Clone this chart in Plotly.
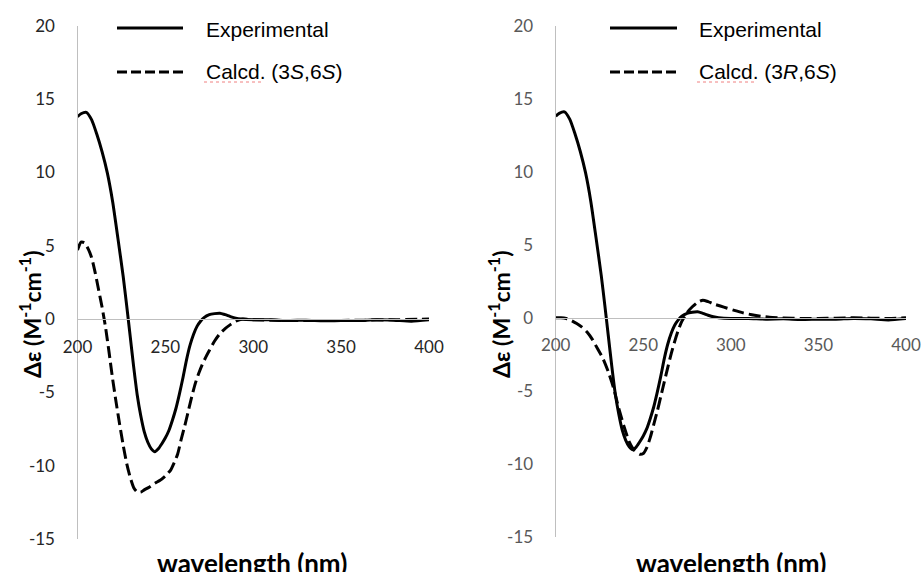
import plotly.graph_objects as go

# ---- spectra (wavelength in nm, delta-epsilon in M^-1 cm^-1) ----
exp_wl = [200, 202, 205, 208, 211, 214, 217, 220, 223, 226, 228, 230, 232, 234,
          236, 238, 240, 242, 244, 246, 248, 250, 252, 254, 256, 258, 260, 262,
          264, 266, 268, 270, 272, 275, 278, 281, 284, 287, 290, 293, 300, 310,
          320, 330, 340, 350, 360, 370, 380, 390, 400]
exp_de = [13.8, 14.0, 14.1, 13.6, 12.6, 11.4, 9.95, 8.0, 5.5, 2.9, 0.9, -1.2,
          -3.3, -5.2, -6.6, -7.7, -8.4, -8.85, -9.05, -8.85, -8.5, -8.1, -7.6,
          -6.9, -6.1, -5.1, -4.0, -2.8, -1.8, -1.05, -0.5, -0.15, 0.1, 0.3, 0.37,
          0.4, 0.3, 0.17, 0.06, 0.0, -0.05, -0.05, -0.1, -0.08, -0.12, -0.1,
          -0.1, -0.05, -0.08, -0.15, -0.05]

calc_ss_wl = [200, 202, 204, 206, 208, 210, 212, 214, 216, 218, 220, 222, 224,
              226, 228, 230, 232, 234, 236, 238, 241, 244, 247, 250, 253, 255,
              257, 259, 261, 263, 265, 267, 269, 271, 273, 275, 278, 281, 284,
              287, 290, 294, 300, 320, 340, 360, 380, 400]
calc_ss_de = [4.7, 5.25, 5.2, 4.8, 4.2, 3.2, 2.0, 0.8, -0.6, -2.3, -4.1, -5.7,
              -7.2, -8.6, -9.85, -10.8, -11.5, -11.8, -11.8, -11.65, -11.45,
              -11.2, -11.0, -10.7, -10.3, -9.8, -9.2, -8.2, -7.3, -6.3, -5.3,
              -4.4, -3.7, -3.1, -2.6, -2.15, -1.5, -1.0, -0.65, -0.38, -0.15,
              0.0, -0.05, -0.1, -0.1, -0.08, -0.05, 0.0]

calc_rs_wl = [200, 203, 206, 209, 212, 215, 218, 221, 224, 227, 230, 233, 236,
              239, 242, 245, 248, 250, 252, 254, 256, 258, 260, 262, 264, 266,
              268, 270, 272, 275, 278, 281, 284, 287, 290, 294, 298, 302, 307,
              312, 317, 322, 330, 340, 350, 360, 370, 380, 390, 400]
calc_rs_de = [0.0, 0.0, -0.05, -0.2, -0.4, -0.65, -1.0, -1.5, -2.15, -2.8, -3.7,
              -4.8, -6.2, -7.45, -8.5, -9.1, -9.35, -9.3, -8.9, -8.2, -7.3, -6.4,
              -5.4, -4.4, -3.4, -2.45, -1.6, -0.85, -0.25, 0.35, 0.75, 1.05, 1.2,
              1.1, 0.95, 0.8, 0.65, 0.5, 0.33, 0.2, 0.1, 0.03, -0.02, -0.05,
              -0.05, -0.03, 0.0, -0.03, -0.05, 0.0]

x_ticks = [200, 250, 300, 350, 400]
y_ticks = [-15, -10, -5, 0, 5, 10, 15, 20]
y_tick_text = ["-15", "-10", "-5", "0", "5", "10", "15", "20"]

W, H = 923, 572
AXIS_GRAY = "#bfbfbf"
TICK_FONT = "Lato, 'Open Sans', sans-serif"
LEG_FONT = "'Liberation Sans', Arial, sans-serif"


def px_x(p):
    return p / W


def px_y(p):
    return 1 - p / H


fig = go.Figure()

line_solid = dict(color="black", width=3, shape="spline", smoothing=0.6)
line_dash = dict(color="black", width=3, dash="12px,5px", shape="spline", smoothing=0.6)

fig.add_trace(go.Scatter(x=exp_wl, y=exp_de, mode="lines", line=line_solid,
                         name="Experimental", xaxis="x", yaxis="y", showlegend=False))
fig.add_trace(go.Scatter(x=calc_ss_wl, y=calc_ss_de, mode="lines", line=line_dash,
                         name="Calcd. (3S,6S)", xaxis="x", yaxis="y", showlegend=False))
fig.add_trace(go.Scatter(x=exp_wl, y=exp_de, mode="lines", line=line_solid,
                         name="Experimental", xaxis="x2", yaxis="y2", showlegend=False))
fig.add_trace(go.Scatter(x=calc_rs_wl, y=calc_rs_de, mode="lines", line=line_dash,
                         name="Calcd. (3R,6S)", xaxis="x2", yaxis="y2", showlegend=False))

# panel geometry (pixels)
panels = [
    dict(x0=77.5, x1=429.0, ytop=25.8, ybot=539.0, tick_color="#262626"),
    dict(x0=555.7, x1=906.0, ytop=25.7, ybot=536.7, tick_color="#595959"),
]

layout = dict(
    width=W, height=H,
    margin=dict(l=0, r=0, t=0, b=0, autoexpand=False),
    paper_bgcolor="white", plot_bgcolor="white",
    showlegend=False,
)

for i, p in enumerate(panels):
    sfx = "" if i == 0 else str(i + 1)
    ydom = [px_y(p["ybot"]), px_y(p["ytop"])]
    zero_pos = ydom[0] + (0 - (-15)) / 35 * (ydom[1] - ydom[0])
    layout["xaxis" + sfx] = dict(
        domain=[px_x(p["x0"]), px_x(p["x1"])],
        range=[200, 400], tickvals=x_ticks, ticktext=[str(v) for v in x_ticks],
        anchor="free", position=zero_pos, automargin=False,
        showline=True, linecolor=AXIS_GRAY, linewidth=1.3,
        showgrid=False, zeroline=False, ticks="",
        ticklabelstandoff=12,
        tickfont=dict(family=TICK_FONT, size=17, color=p["tick_color"]),
    )
    layout["yaxis" + sfx] = dict(
        domain=ydom, range=[-15, 20], tickvals=y_ticks, ticktext=y_tick_text,
        anchor="x" + sfx, automargin=False,
        showline=True, linecolor=AXIS_GRAY, linewidth=1.3,
        showgrid=False, zeroline=False, ticks="",
        ticklabelstandoff=18,
        tickfont=dict(family=TICK_FONT, size=17, color=p["tick_color"]),
    )

fig.update_layout(**layout)

# axis titles
ytitle = "Δε (M<sup>-1</sup>cm<sup>-1</sup>)"
for xc in (30, 499):
    fig.add_annotation(x=px_x(xc), y=px_y(314), xref="paper", yref="paper",
                       text=ytitle, textangle=-90, showarrow=False,
                       xanchor="center", yanchor="middle",
                       font=dict(family="Lato, sans-serif", size=23, color="black", weight="bold"))
for xc in (252, 731):
    fig.add_annotation(x=px_x(xc), y=px_y(563), xref="paper", yref="paper",
                       text="wavelength (nm)", showarrow=False,
                       xanchor="center", yanchor="middle",
                       font=dict(family="Lato, sans-serif", size=26, color="black", weight="bold"))

# legend keys
legends = [
    dict(lx0=117, lx1=183, tx=204, calc="Calcd. (3<i>S</i>,6<i>S</i>)"),
    dict(lx0=610, lx1=677, tx=697, calc="Calcd. (3<i>R</i>,6<i>S</i>)"),
]
for lg in legends:
    fig.add_shape(type="line", xref="paper", yref="paper",
                  x0=px_x(lg["lx0"]), x1=px_x(lg["lx1"]), y0=px_y(28), y1=px_y(28),
                  line=dict(color="black", width=3))
    fig.add_shape(type="line", xref="paper", yref="paper",
                  x0=px_x(lg["lx0"]), x1=px_x(lg["lx1"]), y0=px_y(72), y1=px_y(72),
                  line=dict(color="black", width=3, dash="10px,4px"))
    fig.add_annotation(x=px_x(lg["tx"]), y=px_y(29), xref="paper", yref="paper",
                       text="Experimental", showarrow=False, xanchor="left", yanchor="middle",
                       font=dict(family=LEG_FONT, size=21, color="black"))
    fig.add_annotation(x=px_x(lg["tx"]), y=px_y(72), xref="paper", yref="paper",
                       text=lg["calc"], showarrow=False, xanchor="left", yanchor="middle",
                       font=dict(family=LEG_FONT, size=21, color="black"))
    # spell-check squiggle under "Calcd"
    fig.add_shape(type="line", xref="paper", yref="paper",
                  x0=px_x(lg["tx"]), x1=px_x(lg["tx"] + 57), y0=px_y(82), y1=px_y(82),
                  line=dict(color="#f08080", width=1, dash="dot"))

fig.write_html("out.html")
